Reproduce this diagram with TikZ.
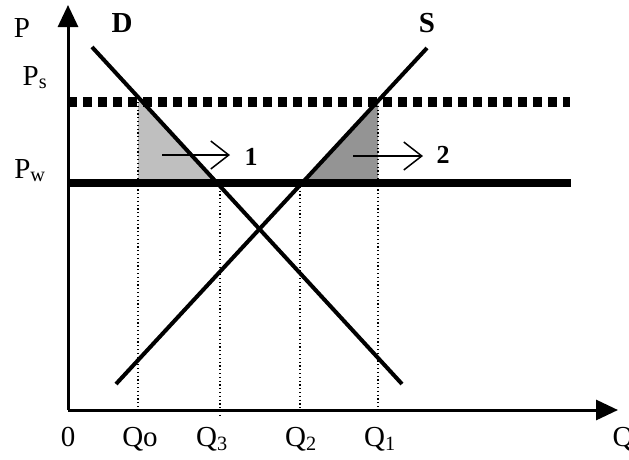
\documentclass[tikz,border=0pt]{standalone}
\usepackage{fontspec}
\setmainfont{Liberation Serif}
\usetikzlibrary{arrows.meta, intersections, calc, positioning}

\begin{document}
\begin{tikzpicture}[
    x=1pt, y=-1pt,
    lbl/.style={font=\fontsize{29}{32}\selectfont, inner sep=0pt, anchor=base},
    num/.style={font=\fontsize{26}{29}\selectfont\bfseries, inner sep=0pt, anchor=base},
    axis/.style={line width=3pt, -{Triangle[length=22pt, width=20pt]}},
    curve/.style={line width=4pt},
    guide/.style={line width=1.2pt, dash pattern=on 1.2pt off 2.6pt},
    shiftarrow/.style={line width=1.5pt, -{Straight Barb[length=18pt, width=28pt]}}
]
    \useasboundingbox (0,0) rectangle (629,459);

    % demand, supply and the two prices
    \coordinate (o) at (68,410);
    \coordinate (dtop) at (92,47);
    \coordinate (dbot) at (402,384);
    \coordinate (sbot) at (116,384);
    \coordinate (stop) at (427,48);
    \coordinate (psl) at (68,102);
    \coordinate (psr) at (570,102);
    \coordinate (pwl) at (68,183);
    \coordinate (pwr) at (571,183);

    \path[name path=dline] (dtop) -- (dbot);
    \path[name path=sline] (sbot) -- (stop);
    \path[name path=psline] (psl) -- (psr);
    \path[name path=pwline] (pwl) -- (pwr);
    \path[name intersections={of=dline and psline, by=dps}];
    \path[name intersections={of=dline and pwline, by=dpw}];
    \path[name intersections={of=sline and pwline, by=spw}];
    \path[name intersections={of=sline and psline, by=sps}];

    % quantities on the axis
    \coordinate (q0) at (138,102);
    \coordinate (q3) at (220,183);
    \coordinate (q2) at (300,183);
    \coordinate (q1) at (378,102);

    \fill[black!25] (q0) -- (dps) -- (dpw) -- (q0 |- pwl) -- cycle;
    \fill[black!42] (spw) -- (sps) -- (q1) -- (q1 |- pwl) -- cycle;

    \draw[guide] (q0) -- (q0 |- o);
    \draw[guide] (q3) -- ($(q3 |- o)+(0,7)$);
    \draw[guide] (q2) -- (q2 |- o);
    \draw[guide] (q1) -- (q1 |- o);

    \draw[curve] (dtop) -- (dbot);
    \draw[curve] (sbot) -- (stop);
    \draw[line width=10pt, dash pattern=on 9pt off 6pt] (psl) -- (psr);
    \draw[line width=8pt] (pwl) -- (pwr);

    \coordinate (a1s) at (162,155);
    \coordinate (a1e) at (230,155);
    \coordinate (a2s) at (353,156);
    \coordinate (a2e) at (423,156);
    \draw[shiftarrow] (a1s) -- (a1e);
    \draw[shiftarrow] (a2s) -- (a2e);

    \draw[axis] (o) -- (68,5);
    \draw[axis] (o) -- (618,410);

    \node[lbl] (pl) at (22,37) {P};
    \node[lbl] (dl) at (122,32) {\bfseries D};
    \node[lbl] (sl) at (427,32) {\bfseries S};
    \node[lbl] (psn) at (35,85) {P\textsubscript{s}};
    \node[lbl] (pwn) at (30,178) {P\textsubscript{w}};
    \node[num] (one) at (251,165) {1};
    \node[num] (two) at (443,163) {2};

    \node[lbl] (zero) at (68,446) {0};
    \node[lbl] (lq0) at (140,446) {Qo};
    \node[lbl] (lq3) at (212,446) {Q\textsubscript{3}};
    \node[lbl] (lq2) at (301,446) {Q\textsubscript{2}};
    \node[lbl] (lq1) at (380,446) {Q\textsubscript{1}};
    \node[lbl] (ql) at (623,446) {Q};
\end{tikzpicture}
\end{document}
